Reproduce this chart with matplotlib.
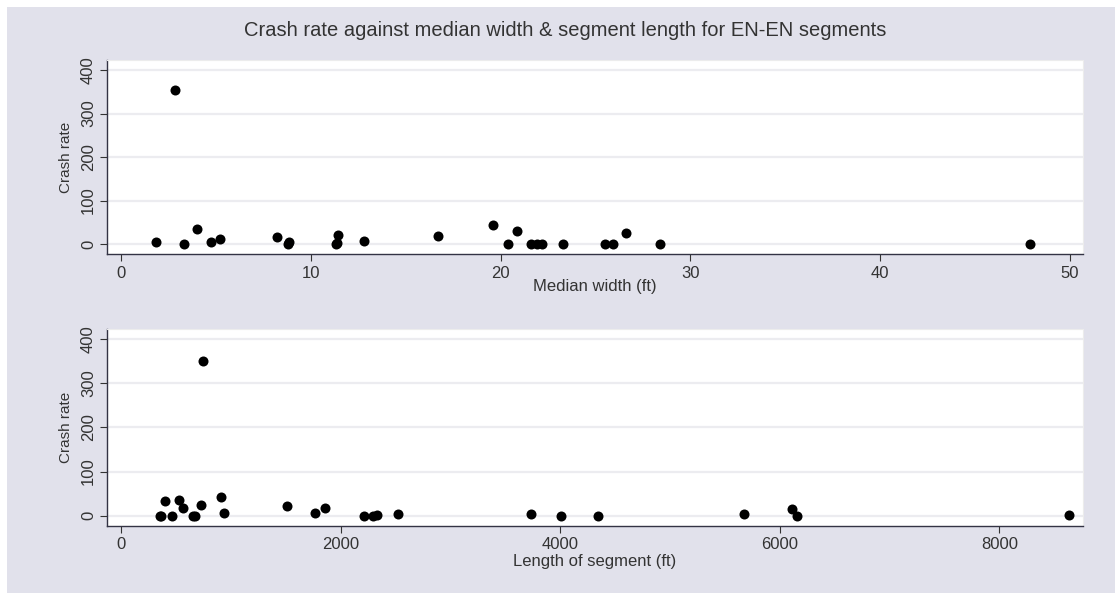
import matplotlib.pyplot as plt
from matplotlib.patches import Rectangle

# median width (ft) vs crash rate
median_width = [1.8, 2.8, 3.3, 4.0, 4.7, 5.2, 8.2, 8.8, 8.85, 11.3, 11.35, 11.4, 12.8,
                16.7, 19.6, 20.4, 20.85, 21.6, 21.9, 22.2, 23.3, 25.5, 25.9, 26.6, 28.4, 47.9]
crash_rate_w = [5, 354, 0, 35, 5, 11, 15, 0, 4, 0, 3, 21, 8,
                18, 43, 0, 31, 0, 0, 0, 0, 0, 0, 25, 0, 0]

# segment length (ft) vs crash rate
seg_length = [348, 365, 401, 462, 521, 563, 655, 668, 726, 742, 908, 938, 1513, 1764,
              1852, 2213, 2290, 2330, 2522, 3732, 4005, 4342, 5676, 6109, 6157, 8637]
crash_rate_l = [0, 0, 32, 0, 35, 17, 0, 0, 25, 352, 43, 6, 21, 5,
                17, 0, 0, 2, 4, 4, 0, 0, 4, 14, 0, 2]

bg = '#e1e1eb'
txt = '#333333'

plt.rcParams['font.family'] = ['Liberation Sans', 'DejaVu Sans']

fig = plt.figure(figsize=(11.15, 5.96), dpi=100)
fig.patch.set_facecolor('white')
fig.patches.append(Rectangle((7 / 1115, 3 / 596), 1 - 7 / 1115, 1 - 10 / 596,
                             transform=fig.transFigure, facecolor=bg, edgecolor='none', zorder=-10))

ax1 = fig.add_axes([0.096, 0.5738, 0.8753, 0.3255])
ax2 = fig.add_axes([0.096, 0.1180, 0.8753, 0.3295])

panels = [
    (ax1, median_width, crash_rate_w, (-0.76, 50.7), [0, 10, 20, 30, 40, 50], 'Median width (ft)', -1),
    (ax2, seg_length, crash_rate_l, (-131, 8762), [0, 2000, 4000, 6000, 8000], 'Length of segment (ft)', 1),
]

for ax, x, y, xlim, xticks, xlabel, lpad in panels:
    ax.set_facecolor('white')
    ax.scatter(x, y, s=52, color='black', zorder=3, linewidths=0)
    ax.set_xlim(*xlim)
    ax.set_ylim(-23, 423)
    ax.set_xticks(xticks)
    ax.set_yticks([0, 100, 200, 300, 400])
    ax.grid(axis='y', color='#ececf0', linewidth=1.6, zorder=0)
    ax.set_axisbelow(True)
    for s in ['top', 'right']:
        ax.spines[s].set_color('#ececec')
    for s in ['left', 'bottom']:
        ax.spines[s].set_color('#333344')
        ax.spines[s].set_linewidth(1.0)
    ax.tick_params(colors=txt, labelsize=12, length=5, width=0.8)
    ax.tick_params(axis='y', labelrotation=90, pad=3)
    for lab in ax.get_yticklabels():
        lab.set_va('center')
    ax.set_xlabel(xlabel, fontsize=12, color=txt, labelpad=lpad)
    ax.set_ylabel('Crash rate', fontsize=11, color=txt, labelpad=6)

fig.suptitle('Crash rate against median width & segment length for EN-EN segments',
             y=1 - 30 / 596, va='center', x=0.507, fontsize=14.5, color=txt)

fig.savefig('out.png', dpi=100, facecolor=fig.get_facecolor())
